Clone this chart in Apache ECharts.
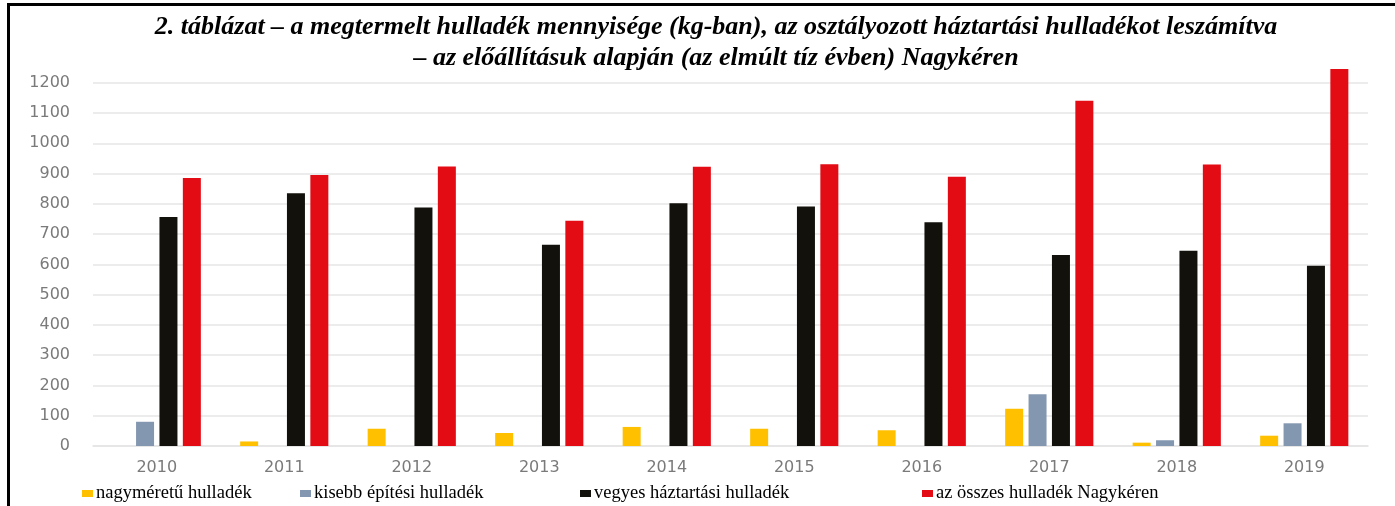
<!DOCTYPE html>
<html>
<head>
<meta charset="utf-8">
<script src="https://cdn.jsdelivr.net/npm/echarts@6/dist/echarts.min.js"></script>
<style>
  html, body { margin: 0; padding: 0; background: #fff; }
  #frame { position: absolute; left: 7px; top: 3px; width: 1388px; height: 503px;
           border-left: 3px solid #000; border-top: 3px solid #000; box-sizing: border-box; }
  #main { position: absolute; left: 0; top: 0; width: 1395px; height: 506px; }
</style>
</head>
<body>
<div id="frame"></div>
<div id="main"></div>
<script>
// data
var years = ['2010', '2011', '2012', '2013', '2014', '2015', '2016', '2017', '2018', '2019']
var nagymeretu = [0, 15, 57, 43, 63, 57, 52, 123, 11, 34]
var kisebbEpitesi = [80, 0, 0, 0, 0, 0, 0, 171, 19, 75]
var vegyes = [756, 835, 788, 665, 802, 791, 739, 631, 645, 595]
var osszes = [885, 895, 923, 744, 922, 931, 889, 1140, 930, 1245]
var yTicks = [0, 100, 200, 300, 400, 500, 600, 700, 800, 900, 1000, 1100, 1200]

var names = ['nagyméretű hulladék', 'kisebb építési hulladék', 'vegyes háztartási hulladék', 'az összes hulladék Nagykéren']
var colors = ['#FFC000', '#8497B0', '#13110C', '#E30B14']

var myChart = echarts.init(document.getElementById('main'))

function legendAt(i, x) {
    return {
        data: [names[i]],
        left: x,
        top: 484,
        icon: 'rect',
        itemWidth: 11,
        itemHeight: 7,
        padding: 0,
        selectedMode: false,
        textStyle: { fontFamily: 'Liberation Serif', fontSize: 18.5, color: '#000', padding: [0, 0, 0, -2] }
    }
}

var option = {
    animation: false,
    title: {
        text: '2. táblázat – a megtermelt hulladék mennyisége (kg-ban), az osztályozott háztartási hulladékot leszámítva\n– az előállításuk alapján (az elmúlt tíz évben) Nagykéren',
        left: 711,
        top: 7,
        textAlign: 'center',
        textStyle: {
            fontFamily: 'Liberation Serif',
            fontStyle: 'italic',
            fontWeight: 'bold',
            fontSize: 26,
            lineHeight: 31,
            color: '#000'
        }
    },
    legend: [legendAt(0, 82), legendAt(1, 300), legendAt(2, 580), legendAt(3, 922)],
    grid: { left: 93, right: 27, top: 82.7, bottom: 60 },
    xAxis: {
        type: 'category',
        data: years,
        axisTick: { show: false },
        axisLine: { lineStyle: { color: '#e4e4e4', width: 1.5 } },
        axisLabel: { color: '#7a7a7a', fontFamily: 'DejaVu Sans', fontSize: 16, margin: 14 }
    },
    yAxis: {
        type: 'value',
        min: yTicks[0],
        max: yTicks[yTicks.length - 1],
        interval: 100,
        axisLine: { show: false },
        axisTick: { show: false },
        splitLine: { lineStyle: { color: '#e6e6e6', width: 1.5 } },
        axisLabel: {
            color: '#7a7a7a', fontFamily: 'DejaVu Sans', fontSize: 16, margin: 23,
            formatter: function (v) { return String(v) }
        }
    },
    series: [nagymeretu, kisebbEpitesi, vegyes, osszes].map(function (d, i) {
        return {
            name: names[i],
            type: 'bar',
            data: d,
            barWidth: 18,
            barGap: '30%',
            clip: false,
            itemStyle: { color: colors[i] }
        }
    })
}

myChart.setOption(option)
</script>
</body>
</html>
